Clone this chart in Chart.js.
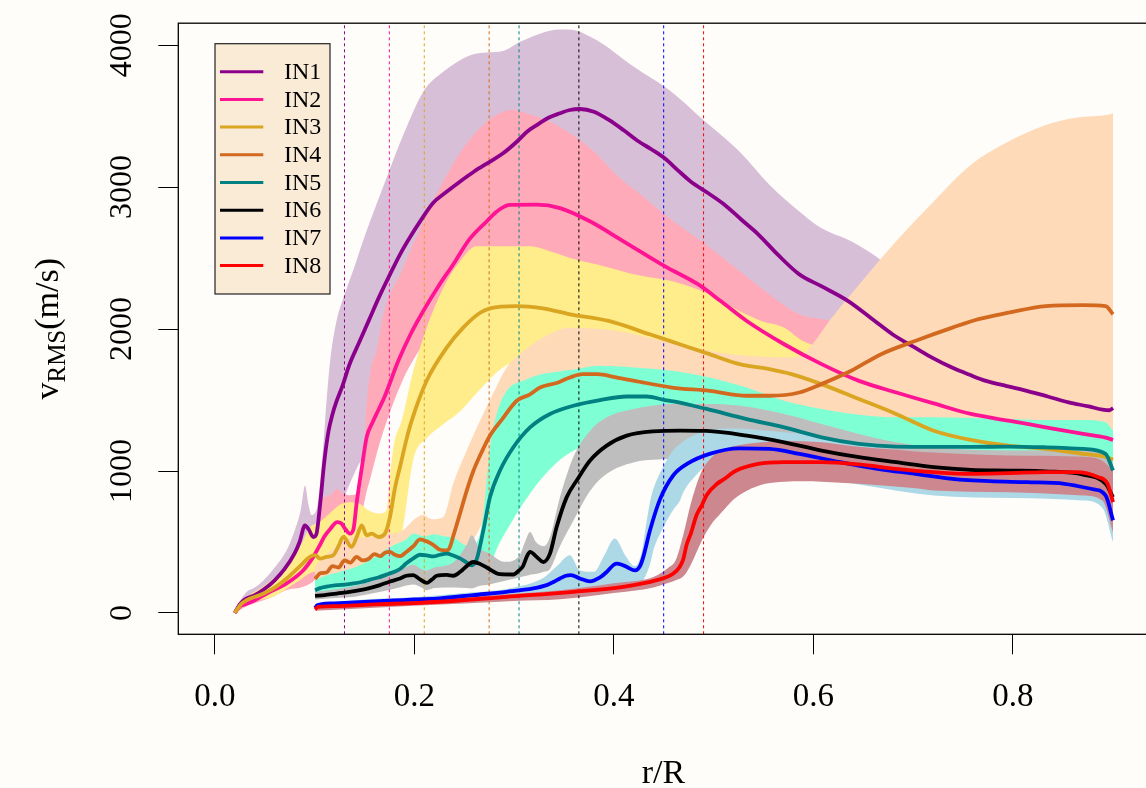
<!DOCTYPE html>
<html><head><meta charset="utf-8">
<script src="https://cdn.jsdelivr.net/npm/chart.js@4.4.1/dist/chart.umd.min.js"></script>
<style>
html,body{margin:0;padding:0;background:#fffdf9;overflow:hidden;}
#wrap{width:1146px;height:788px;overflow:hidden;position:relative;}
canvas{display:block;}
</style></head><body>
<div id="wrap"><canvas id="c" width="1150" height="800" style="width:1150px;height:800px"></canvas></div>
<script>
// ---- tick labels / categories ----
const xTicks = [0, 0.2, 0.4, 0.6, 0.8];
const yTicks = [0, 1000, 2000, 3000, 4000];
const seriesNames = ['IN1','IN2','IN3','IN4','IN5','IN6','IN7','IN8'];
const lineColors = ['#8B008B','#FF1493','#DAA520','#D2691E','#008080','#000000','#0000FF','#FF0000'];
const bandColors = ['#D8BFD8','#FFAAB8','#FFEC8B','#FFDAB9','#7FFFD4','#BEBEBE','#ADD8E6','#CC878F'];
const transitionX = [0.13, 0.175, 0.21, 0.275, 0.305, 0.365, 0.45, 0.49];

// ---- mean curves [r/R, v] ----
const in1 = [[0.020,0],[0.025,60],[0.030,95],[0.040,125],[0.050,170],[0.060,230],[0.070,310],[0.080,420],[0.085,500],[0.0904,617],[0.094,590],[0.0988,535],[0.102,560],[0.1055,760],[0.110,1080],[0.114,1280],[0.118,1400],[0.122,1490],[0.128,1600],[0.135,1750],[0.145,1910],[0.155,2070],[0.165,2230],[0.176,2390],[0.186,2530],[0.196,2650],[0.206,2760],[0.219,2890],[0.232,2965],[0.246,3040],[0.260,3110],[0.276,3180],[0.289,3238],[0.303,3321],[0.313,3390],[0.323,3438],[0.335,3490],[0.346,3520],[0.356,3543],[0.366,3550],[0.380,3531],[0.395,3473],[0.410,3400],[0.425,3321],[0.438,3265],[0.451,3203],[0.464,3120],[0.477,3040],[0.494,2960],[0.511,2876],[0.528,2770],[0.545,2666],[0.565,2520],[0.586,2385],[0.608,2302],[0.635,2197],[0.661,2060],[0.680,1960],[0.702,1869],[0.720,1795],[0.739,1729],[0.756,1680],[0.773,1635],[0.794,1598],[0.814,1565],[0.835,1525],[0.856,1483],[0.876,1455],[0.890,1432],[0.897,1428],[0.9005,1444]];
const in2 = [[0.020,0],[0.026,50],[0.030,60],[0.040,90],[0.0553,149],[0.072,208],[0.0887,301],[0.0987,395],[0.1055,480],[0.110,540],[0.1155,590],[0.1228,640],[0.127,630],[0.131,590],[0.1355,559],[0.139,590],[0.1423,780],[0.1473,1020],[0.1523,1240],[0.158,1340],[0.164,1430],[0.170,1520],[0.184,1776],[0.196,1960],[0.209,2127],[0.224,2300],[0.239,2455],[0.255,2630],[0.2726,2759],[0.285,2840],[0.296,2875],[0.3227,2876],[0.346,2852],[0.376,2759],[0.4097,2618],[0.451,2443],[0.4847,2314],[0.5072,2197],[0.5333,2057],[0.5708,1893],[0.6083,1753],[0.6458,1635],[0.6832,1553],[0.7207,1476],[0.758,1402],[0.7956,1355],[0.833,1308],[0.8706,1261],[0.893,1235],[0.9005,1219]];
const in3 = [[0.020,0],[0.026,60],[0.032,91],[0.0453,126],[0.0587,173],[0.072,243],[0.0854,330],[0.0954,395],[0.1005,407],[0.1055,383],[0.112,395],[0.1188,407],[0.124,470],[0.1288,535],[0.1372,465],[0.1425,540],[0.1473,617],[0.1523,547],[0.1573,559],[0.164,535],[0.1706,559],[0.1756,676],[0.1806,880],[0.1857,1030],[0.1924,1230],[0.1974,1355],[0.2124,1636],[0.2325,1869],[0.249,2010],[0.266,2115],[0.276,2146],[0.3027,2162],[0.329,2146],[0.356,2104],[0.3948,2057],[0.436,1963],[0.466,1893],[0.496,1823],[0.526,1753],[0.556,1717],[0.578,1682],[0.608,1612],[0.6458,1507],[0.683,1402],[0.7207,1284],[0.758,1219],[0.7956,1179],[0.833,1156],[0.8706,1121],[0.893,1100],[0.9005,1079]];
const in4 = [[0.1005,240],[0.106,280],[0.112,285],[0.118,330],[0.124,320],[0.130,370],[0.136,355],[0.142,395],[0.148,370],[0.154,380],[0.160,415],[0.166,400],[0.1706,425],[0.1756,430],[0.1806,410],[0.1857,400],[0.192,430],[0.199,470],[0.2057,518],[0.2124,505],[0.219,480],[0.2258,445],[0.2325,440],[0.2358,465],[0.239,540],[0.2458,700],[0.2525,860],[0.2592,1000],[0.266,1110],[0.2759,1250],[0.2876,1360],[0.3027,1495],[0.316,1540],[0.326,1588],[0.3427,1620],[0.356,1659],[0.3685,1682],[0.3836,1682],[0.402,1660],[0.421,1635],[0.4584,1588],[0.496,1565],[0.5333,1530],[0.556,1530],[0.586,1553],[0.608,1612],[0.638,1706],[0.668,1823],[0.702,1916],[0.7394,2010],[0.7656,2070],[0.7956,2115],[0.833,2162],[0.8706,2169],[0.893,2162],[0.9005,2104]];
const in5 = [[0.1005,160],[0.1055,175],[0.112,185],[0.122,196],[0.13,200],[0.139,208],[0.147,218],[0.1556,235],[0.164,250],[0.172,270],[0.18,290],[0.1857,310],[0.192,350],[0.199,385],[0.2057,410],[0.2124,405],[0.219,398],[0.2258,410],[0.2325,418],[0.239,405],[0.2458,385],[0.2525,355],[0.2575,336],[0.2626,380],[0.2692,582],[0.2759,816],[0.2859,1003],[0.2993,1167],[0.316,1307],[0.336,1402],[0.3594,1460],[0.3862,1500],[0.413,1525],[0.433,1525],[0.451,1500],[0.4597,1490],[0.493,1437],[0.5333,1366],[0.5708,1308],[0.6083,1237],[0.6458,1191],[0.683,1172],[0.7207,1170],[0.758,1170],[0.7956,1172],[0.833,1167],[0.8706,1156],[0.893,1121],[0.9005,1003]];
const in6 = [[0.1005,120],[0.11,125],[0.122,137],[0.135,148],[0.1456,161],[0.155,175],[0.1656,196],[0.175,220],[0.1857,243],[0.192,262],[0.199,266],[0.205,240],[0.2124,212],[0.2175,235],[0.2225,262],[0.2325,268],[0.239,262],[0.246,290],[0.2525,330],[0.259,359],[0.266,345],[0.2726,320],[0.2859,273],[0.2993,271],[0.305,300],[0.309,330],[0.313,400],[0.316,430],[0.3227,395],[0.3293,359],[0.336,418],[0.3427,605],[0.3528,816],[0.3628,933],[0.3762,1074],[0.3929,1179],[0.413,1249],[0.4396,1279],[0.4664,1284],[0.493,1282],[0.5333,1249],[0.5708,1202],[0.6083,1144],[0.6458,1097],[0.683,1062],[0.7207,1027],[0.758,1008],[0.7956,1003],[0.833,998],[0.8706,975],[0.893,910],[0.9005,816]];
const in7 = [[0.1005,35],[0.103,55],[0.107,62],[0.12,68],[0.15,78],[0.18,88],[0.2,95],[0.2258,103],[0.259,126],[0.2926,149],[0.3193,173],[0.3327,196],[0.34,220],[0.346,243],[0.352,262],[0.357,266],[0.366,243],[0.376,222],[0.3862,250],[0.393,290],[0.4,340],[0.403,348],[0.408,340],[0.413,324],[0.4213,300],[0.4263,330],[0.4296,395],[0.4363,582],[0.4463,800],[0.4597,970],[0.4734,1050],[0.496,1121],[0.526,1160],[0.556,1156],[0.586,1121],[0.627,1062],[0.6645,1015],[0.702,980],[0.7394,945],[0.777,928],[0.8143,921],[0.8518,910],[0.878,875],[0.893,828],[0.9005,652]];
const in8 = [[0.1005,25],[0.103,42],[0.107,45],[0.13,50],[0.16,60],[0.2,70],[0.2258,79],[0.2926,114],[0.3594,149],[0.4095,184],[0.443,231],[0.4597,278],[0.466,324],[0.4697,380],[0.473,480],[0.4772,559],[0.483,690],[0.4884,760],[0.493,830],[0.5035,910],[0.51,940],[0.522,1000],[0.5446,1050],[0.5708,1062],[0.6083,1062],[0.6458,1046],[0.683,1015],[0.7207,992],[0.758,980],[0.7956,985],[0.833,992],[0.863,992],[0.8855,957],[0.895,910],[0.9005,781]];

// ---- spread bands [r/R, lower, upper] ----
const band1 = [[0.020,0,0],[0.025,40,80],[0.032,70,149],[0.040,85,180],[0.049,110,231],[0.060,150,320],[0.072,220,442],[0.080,300,580],[0.086,360,720],[0.0905,400,898],[0.094,420,760],[0.097,430,690],[0.100,440,700],[0.103,450,760],[0.106,470,950],[0.109,500,1200],[0.112,520,1495],[0.116,570,1800],[0.122,640,2057],[0.1305,828,2250],[0.1405,992,2450],[0.1506,1144,2660],[0.160,1400,2840],[0.172,1600,3063],[0.189,1950,3368],[0.209,2300,3672],[0.229,2550,3812],[0.256,2750,3929],[0.273,2850,3948],[0.289,2950,3958],[0.306,3000,4023],[0.326,3050,4081],[0.346,3060,4110],[0.361,3050,4105],[0.376,3010,4060],[0.391,2950,3999],[0.408,2880,3910],[0.425,2800,3824],[0.451,2680,3707],[0.470,2580,3600],[0.488,2480,3484],[0.507,2370,3370],[0.526,2270,3250],[0.556,2130,3017],[0.590,1980,2806],[0.608,1920,2712],[0.638,1830,2618],[0.665,1700,2501],[0.700,1600,2300],[0.750,1500,2050],[0.800,1400,1850],[0.850,1350,1700],[0.9005,1300,1600]];
const band2 = [[0.020,0,0],[0.030,40,80],[0.045,80,130],[0.060,120,190],[0.072,161,260],[0.0887,184,380],[0.102,243,560],[0.1055,280,760],[0.112,330,820],[0.118,380,840],[0.122,420,875],[0.127,450,851],[0.135,500,830],[0.145,620,850],[0.149,750,1100],[0.152,850,1450],[0.156,950,1700],[0.1623,1121,1850],[0.169,1280,2104],[0.189,1650,2431],[0.209,1900,2759],[0.229,2150,3040],[0.249,2300,3274],[0.2726,2400,3461],[0.2892,2450,3531],[0.2993,2470,3543],[0.3127,2470,3519],[0.336,2450,3461],[0.356,2420,3379],[0.38,2350,3250],[0.4024,2250,3087],[0.43,2150,2930],[0.451,2080,2806],[0.488,1960,2618],[0.522,1850,2431],[0.556,1740,2244],[0.586,1650,2104],[0.616,1560,2057],[0.65,1450,1950],[0.70,1350,1850],[0.75,1270,1750],[0.80,1200,1650],[0.85,1150,1550],[0.9005,1100,1450]];
const band3 = [[0.020,0,0],[0.032,60,110],[0.045,90,170],[0.060,120,250],[0.072,170,330],[0.085,230,460],[0.095,280,600],[0.105,300,640],[0.115,320,700],[0.125,370,760],[0.135,380,780],[0.145,420,770],[0.155,440,720],[0.165,450,700],[0.172,460,723],[0.176,470,1000],[0.180,480,1200],[0.1874,560,1355],[0.199,1080,1706],[0.2124,1230,2010],[0.229,1330,2290],[0.2458,1420,2478],[0.2626,1550,2583],[0.289,1730,2583],[0.316,1790,2583],[0.336,1820,2548],[0.356,1830,2501],[0.3835,1800,2455],[0.421,1760,2385],[0.458,1700,2338],[0.496,1620,2244],[0.526,1550,2127],[0.548,1500,2057],[0.571,1470,2010],[0.5896,1440,1916],[0.62,1380,1850],[0.66,1300,1750],[0.70,1200,1600],[0.75,1080,1500],[0.80,1000,1400],[0.85,950,1350],[0.9005,900,1300]];
const band4 = [[0.1005,180,330],[0.11,200,400],[0.12,230,460],[0.13,260,510],[0.14,280,540],[0.15,270,530],[0.16,280,540],[0.17,300,560],[0.18,290,560],[0.19,320,590],[0.20,360,660],[0.209,380,690],[0.218,360,660],[0.229,330,676],[0.239,350,910],[0.2525,450,1144],[0.266,600,1355],[0.2786,800,1540],[0.2926,950,1729],[0.306,1050,1823],[0.329,1200,1940],[0.356,1280,2010],[0.40,1300,1990],[0.46,1300,1900],[0.52,1300,1820],[0.58,1250,1800],[0.59,1240,1823],[0.60,1230,1900],[0.616,1220,2057],[0.646,1200,2314],[0.683,1200,2618],[0.7207,1200,2899],[0.758,1200,3157],[0.7956,1200,3321],[0.833,1200,3438],[0.863,1200,3489],[0.8968,1200,3512],[0.9005,1200,3520]];
const band5 = [[0.1005,110,230],[0.11,130,260],[0.12,140,280],[0.13,150,300],[0.14,150,320],[0.15,160,350],[0.16,180,390],[0.17,200,440],[0.18,220,480],[0.19,250,510],[0.20,290,560],[0.21,300,540],[0.22,300,555],[0.23,300,540],[0.24,290,530],[0.25,270,480],[0.258,260,470],[0.266,270,560],[0.2692,280,700],[0.2759,324,1167],[0.2826,450,1402],[0.2926,582,1565],[0.309,770,1635],[0.326,933,1680],[0.343,1060,1700],[0.36,1144,1715],[0.3836,1200,1741],[0.421,1230,1729],[0.458,1230,1706],[0.496,1200,1659],[0.533,1150,1588],[0.5708,1100,1495],[0.6083,1050,1437],[0.6458,1000,1397],[0.683,980,1378],[0.7207,970,1378],[0.758,960,1374],[0.7956,960,1367],[0.833,960,1360],[0.8706,950,1360],[0.893,920,1343],[0.9005,850,1285]];
const band6 = [[0.1005,95,150],[0.12,105,165],[0.14,115,190],[0.16,140,230],[0.18,170,290],[0.19,190,320],[0.199,200,340],[0.207,180,310],[0.2124,160,300],[0.22,175,320],[0.23,180,330],[0.24,180,360],[0.2525,175,480],[0.2575,173,547],[0.265,190,460],[0.275,200,420],[0.29,225,360],[0.305,250,400],[0.311,260,500],[0.316,270,570],[0.322,275,500],[0.33,290,470],[0.336,310,535],[0.346,470,816],[0.3594,650,1097],[0.3762,860,1284],[0.393,980,1378],[0.4196,1060,1437],[0.4597,1086,1472],[0.493,1097,1472],[0.5265,1090,1460],[0.5708,1060,1402],[0.6083,1020,1331],[0.6458,990,1261],[0.683,950,1203],[0.7207,920,1167],[0.7956,900,1144],[0.8706,880,1144],[0.893,820,1121],[0.9005,720,1050]];
const band7 = [[0.1005,20,60],[0.15,50,95],[0.2,65,110],[0.25,80,140],[0.3,100,180],[0.33,120,250],[0.343,140,330],[0.356,150,407],[0.366,150,300],[0.38,150,290],[0.39,160,400],[0.401,180,524],[0.412,190,400],[0.421,200,330],[0.428,220,430],[0.433,280,650],[0.4366,350,793],[0.44,450,880],[0.451,620,1050],[0.46,730,1150],[0.4664,793,1190],[0.4697,850,1210],[0.48,950,1250],[0.496,1040,1290],[0.52,1040,1300],[0.56,1000,1280],[0.6,960,1250],[0.65,900,1180],[0.7207,828,1120],[0.80,810,1080],[0.8706,793,1050],[0.89,740,1000],[0.9005,500,900]];
const band8 = [[0.1005,15,40],[0.2,50,90],[0.3,85,135],[0.346,97,160],[0.4,140,210],[0.4397,180,254],[0.455,212,320],[0.462,230,371],[0.47,260,560],[0.4772,340,770],[0.4884,512,1003],[0.4973,620,1090],[0.507,700,1144],[0.52,800,1175],[0.533,860,1191],[0.552,910,1205],[0.5708,925,1214],[0.5896,928,1210],[0.6083,925,1203],[0.6458,910,1170],[0.7,880,1140],[0.7207,863,1130],[0.7956,851,1110],[0.8706,828,1100],[0.89,790,1070],[0.9005,570,1000]];

const means = [in1,in2,in3,in4,in5,in6,in7,in8];
const bands = [band1,band2,band3,band4,band5,band6,band7,band8];

const BG = '#fffdf9';
const SERIF = '"Liberation Serif", "Times New Roman", serif';

const datasets = [];
bands.forEach((b, k) => {
  const upIdx = datasets.length;
  datasets.push({label: seriesNames[k] + ' upper', data: b.map(p => ({x: p[0], y: p[2]})),
    borderWidth: 0, borderColor: 'rgba(0,0,0,0)', pointRadius: 0, fill: false,
    cubicInterpolationMode: 'monotone', order: 100 - 2 * k});
  datasets.push({label: seriesNames[k] + ' lower', data: b.map(p => ({x: p[0], y: p[1]})),
    borderWidth: 0, borderColor: 'rgba(0,0,0,0)', backgroundColor: bandColors[k], pointRadius: 0,
    fill: {target: upIdx}, cubicInterpolationMode: 'monotone', order: 99 - 2 * k});
});
transitionX.forEach((v, k) => {
  datasets.push({label: seriesNames[k] + ' transition', data: [{x: v, y: -150.3}, {x: v, y: 4154.5}],
    borderWidth: 1, borderColor: lineColors[k], borderDash: [3, 3], pointRadius: 0, fill: false, order: 50});
});
means.forEach((m, k) => {
  datasets.push({label: seriesNames[k], data: m.map(p => ({x: p[0], y: p[1]})),
    borderWidth: 3.8, borderColor: lineColors[k], pointRadius: 0, fill: false,
    cubicInterpolationMode: 'monotone', order: 10 - k, isMean: true});
});

const bgPlugin = {id: 'bg', beforeDraw(c) {
  const ctx = c.ctx; ctx.save(); ctx.fillStyle = BG; ctx.fillRect(0, 0, c.width, c.height); ctx.restore();
}};
const decoPlugin = {id: 'deco', afterDraw(c) {
  const ctx = c.ctx, a = c.chartArea;
  ctx.save();
  // box
  ctx.strokeStyle = '#000'; ctx.lineWidth = 1.3;
  ctx.strokeRect(a.left, a.top, a.right - a.left, a.bottom - a.top);
  // legend
  const lx = 215, ly = 43.7, lw = 115, lh = 250.3;
  ctx.fillStyle = '#FAEBD7'; ctx.fillRect(lx, ly, lw, lh);
  ctx.strokeStyle = '#222'; ctx.lineWidth = 1.2; ctx.strokeRect(lx, ly, lw, lh);
  ctx.font = '24px ' + SERIF; ctx.textBaseline = 'middle'; ctx.textAlign = 'left';
  c.data.datasets.filter(d => d.isMean).forEach((d, i) => {
    const y = 71.7 + 27.7 * i;
    ctx.strokeStyle = d.borderColor; ctx.lineWidth = 3;
    ctx.beginPath(); ctx.moveTo(220, y); ctx.lineTo(263.3, y); ctx.stroke();
    ctx.fillStyle = '#000'; ctx.fillText(d.label, 284, y + 1);
  });
  // y-axis title with subscript
  ctx.translate(58, (a.top + a.bottom) / 2); ctx.rotate(-Math.PI / 2);
  ctx.textBaseline = 'alphabetic'; ctx.fillStyle = '#000';
  ctx.font = '34px ' + SERIF; const wV = ctx.measureText('v').width; const wP = ctx.measureText('(m/s)').width;
  ctx.font = '25px ' + SERIF; const wR = ctx.measureText('RMS').width;
  let s = -(wV + wR + wP) / 2;
  ctx.font = '34px ' + SERIF; ctx.fillText('v', s, 0);
  ctx.font = '25px ' + SERIF; ctx.fillText('RMS', s + wV, 7);
  ctx.font = '34px ' + SERIF; ctx.fillText('(m/s)', s + wV + wR, 0);
  ctx.restore();
}};

new Chart(document.getElementById('c'), {
  type: 'line',
  data: {datasets},
  options: {
    responsive: false, animation: false, devicePixelRatio: 1,
    layout: {padding: {top: 21.3, right: 1.5, bottom: 0, left: 0}},
    plugins: {legend: {display: false}, tooltip: {enabled: false}, filler: {propagate: false, drawTime: 'beforeDatasetDraw'}},
    scales: {
      x: {type: 'linear', min: -0.03659, max: 0.93604,
        afterBuildTicks: s => { s.ticks = xTicks.map(v => ({value: v})); },
        afterFit: s => { s.height = 800 - 634.3; },
        ticks: {callback: v => v.toFixed(1), font: {family: SERIF, size: 33}, color: '#000', padding: 23, maxRotation: 0, autoSkip: false},
        grid: {drawOnChartArea: false, drawTicks: true, tickLength: 20, color: '#000', tickColor: '#000', lineWidth: 1},
        border: {display: false},
        title: {display: true, text: 'r/R', font: {family: SERIF, size: 34}, color: '#000', padding: {top: 0, bottom: 6}}
      },
      y: {type: 'linear', min: -150.3, max: 4154.5,
        afterBuildTicks: s => { s.ticks = yTicks.map(v => ({value: v})); },
        afterFit: s => { s.width = 178.3; },
        ticks: {callback: v => String(v), font: {family: SERIF, size: 32}, color: '#000', minRotation: 90, maxRotation: 90, crossAlign: 'center', padding: 4, autoSkip: false},
        grid: {drawOnChartArea: false, drawTicks: true, tickLength: 20, color: '#000', tickColor: '#000', lineWidth: 1},
        border: {display: false}
      }
    }
  },
  plugins: [bgPlugin, decoPlugin]
});
</script></body></html>
